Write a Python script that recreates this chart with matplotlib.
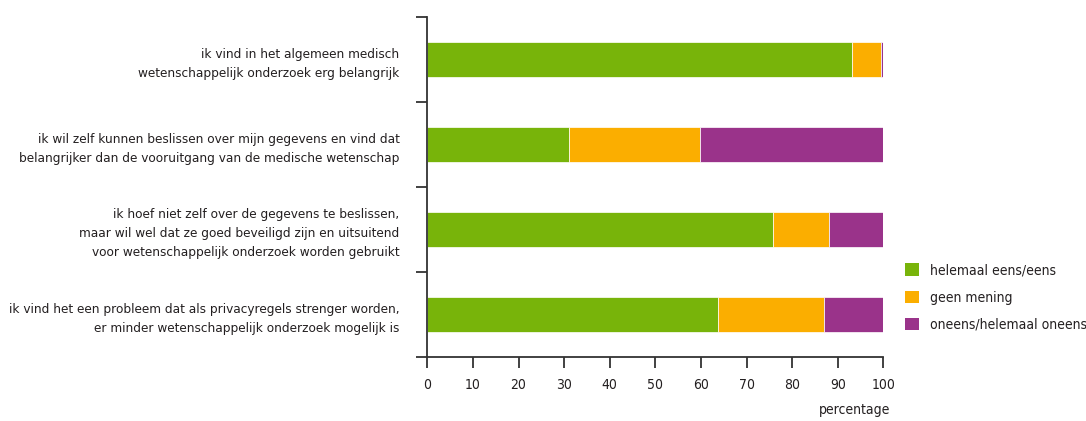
import numpy as np
import matplotlib.pyplot as plt
from matplotlib.patches import Patch

statements = [
    "ik vind in het algemeen medisch\nwetenschappelijk onderzoek erg belangrijk",
    "ik wil zelf kunnen beslissen over mijn gegevens en vind dat\nbelangrijker dan de vooruitgang van de medische wetenschap",
    "ik hoef niet zelf over de gegevens te beslissen,\nmaar wil wel dat ze goed beveiligd zijn en uitsuitend\nvoor wetenschappelijk onderzoek worden gebruikt",
    "ik vind het een probleem dat als privacyregels strenger worden,\ner minder wetenschappelijk onderzoek mogelijk is",
]
series_names = ["helemaal eens/eens", "geen mening", "oneens/helemaal oneens"]
eens = [93.1, 31.1, 75.9, 63.8]
geen_mening = [6.3, 28.7, 12.1, 23.1]
oneens = [0.6, 40.2, 12.0, 13.1]
x_ticks = [0, 10, 20, 30, 40, 50, 60, 70, 80, 90, 100]

colors = ["#78b40a", "#fbae00", "#9a338a"]
text_color = "#231f20"
axis_color = "#333333"

plt.rcParams['font.family'] = ['DejaVu Sans']
plt.rcParams['font.stretch'] = 'condensed'


def plot_chart():
    fig = plt.figure(figsize=(10.86, 4.21), dpi=100)
    ax = fig.add_axes([0.3935, 0.1527, 0.4199, 0.8062])

    y = np.arange(len(statements))
    left = np.zeros(len(statements))
    for values, color in zip([eens, geen_mening, oneens], colors):
        ax.barh(y, values, left=left, height=0.41, color=color,
                edgecolor="white", linewidth=0.5)
        left += np.array(values)

    ax.set_xlim(0, 100)
    ax.set_ylim(3.5, -0.5)

    for side in ["top", "right"]:
        ax.spines[side].set_visible(False)
    for side in ["left", "bottom"]:
        ax.spines[side].set_color(axis_color)
        ax.spines[side].set_linewidth(1.3)

    ax.set_xticks(x_ticks)
    ax.set_xticklabels([str(t) for t in x_ticks], fontsize=10, color=text_color)
    ax.tick_params(axis="x", direction="out", length=8, width=1.3,
                   color=axis_color, pad=7)

    ax.set_yticks(y)
    ax.set_yticklabels(statements, fontsize=9.7, color=text_color,
                       linespacing=1.6)
    ax.tick_params(axis="y", which="major", length=0, pad=20)
    ax.set_yticks(np.arange(-0.5, len(statements), 1.0), minor=True)
    ax.tick_params(axis="y", which="minor", direction="out", length=8,
                   width=1.3, color=axis_color)

    ax.text(1.015, -0.135, "percentage", transform=ax.transAxes,
            ha="right", va="top", fontsize=10, color=text_color)

    handles = [Patch(facecolor=c, edgecolor="none") for c in colors]
    fig.legend(handles, series_names, loc="upper left",
               bbox_to_anchor=(0.822, 0.404), frameon=False,
               fontsize=10, labelcolor=text_color, handlelength=1.0,
               handleheight=1.0, handletextpad=0.8, labelspacing=0.95)

    fig.savefig("out.png", dpi=100)


def main():
    plot_chart()


if __name__ == "__main__":
    main()
